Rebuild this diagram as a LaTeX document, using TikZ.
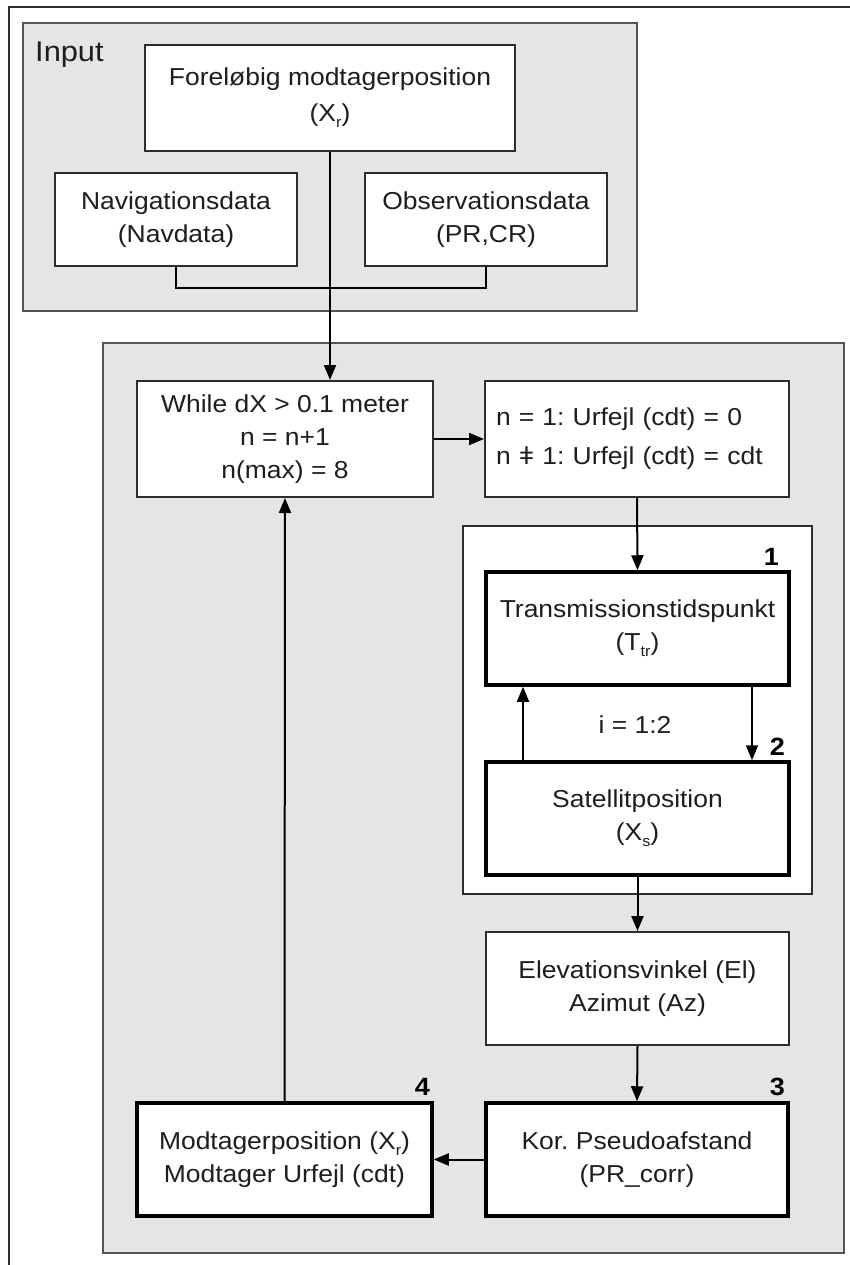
\documentclass[tikz,border=0pt]{standalone}
\usepackage{fontspec}
\setmainfont{Liberation Sans}[FakeStretch=1.08]
\usetikzlibrary{arrows.meta}

\definecolor{panel}{RGB}{229,229,229}
\definecolor{panelline}{RGB}{85,85,85}
\definecolor{boxline}{RGB}{45,45,45}
\definecolor{ink}{RGB}{30,30,30}

% lowered small index, e.g. X with index r
\newcommand{\lowidx}[1]{\raisebox{-6pt}{\fontsize{15}{15}\selectfont #1}}

\begin{document}
\frenchspacing
\begin{tikzpicture}[
  x=1pt, y=-1pt,
  font=\fontsize{24.5}{33}\selectfont, text=ink,
  panelbox/.style={draw=panelline, line width=2pt, fill=panel},
  plainbox/.style={draw=boxline, line width=2pt, fill=white, inner sep=0pt, align=center},
  heavybox/.style={draw=black, line width=3.5pt, fill=white, inner sep=0pt, align=center},
  link/.style={draw=black, line width=2pt},
  arr/.style={link, -{Triangle[length=15pt,width=12pt]}},
  stepno/.style={font=\fontsize{25}{25}\selectfont\bfseries, text=black, anchor=base east, inner sep=0pt}
]
\useasboundingbox (0,0) rectangle (850,1265);

% outer frame (top and left edges)
\draw[draw=boxline, line width=2.5pt] (9,1265) -- (9,7) -- (850,7);

% containers
\draw[panelbox] (23,23) rectangle (637,311);
\draw[panelbox] (103,343) rectangle (844,1253);
\draw[plainbox] (463,526) rectangle (812,894);

\node[anchor=base west, inner sep=0pt, font=\fontsize{28.5}{30}\selectfont] (inputlbl) at (35,62) {Input};

% input boxes
\node[plainbox, minimum width=370pt, minimum height=106pt] (fore) at (330,98)
  {Foreløbig modtagerposition\\[3pt](X\lowidx{r})};
\node[plainbox, minimum width=242pt, minimum height=93pt] (nav) at (176,219.5)
  {Navigationsdata\\(Navdata)};
\node[plainbox, minimum width=242pt, minimum height=93pt] (obs) at (486,219.5)
  {Observationsdata\\(PR,CR)};

% iteration boxes
\node[plainbox, minimum width=296pt, minimum height=116pt] (while) at (285,439)
  {While dX > 0.1 meter\\n = n+1\\n(max) = 8};
\node[plainbox, minimum width=304pt, minimum height=116pt, align=left, text width=282pt] (ncase) at (637,439)
  {n = 1: Urfejl (cdt) = 0\\[6pt]n ǂ 1: Urfejl (cdt) = cdt};
\node[heavybox, minimum width=303pt, minimum height=113pt] (trans) at (637.5,628.5)
  {Transmissionstidspunkt\\(T\lowidx{tr})};
\node[heavybox, minimum width=303pt, minimum height=113pt] (sat) at (637.5,818.5)
  {Satellitposition\\(X\lowidx{s})};
\node[plainbox, minimum width=303pt, minimum height=113pt] (elev) at (637.5,988.5)
  {Elevationsvinkel (El)\\Azimut (Az)};
\node[heavybox, minimum width=302pt, minimum height=113pt] (kor) at (637,1159.5)
  {Kor. Pseudoafstand\\(PR\_corr)};
\node[heavybox, minimum width=295pt, minimum height=113pt] (modt) at (284.5,1159.5)
  {Modtagerposition (X\lowidx{r})\\Modtager Urfejl (cdt)};

% step numbers and loop label
\node[stepno] (n1) at (779,565) {1};
\node[stepno] (n2) at (785,755) {2};
\node[stepno] (n3) at (785,1095) {3};
\node[stepno] (n4) at (430,1095) {4};
\node[anchor=base, inner sep=0pt] (iloop) at (635,733) {i = 1:2};

% connectors
\draw[arr] (fore.south) -- (fore.south |- while.north);
\draw[link] (nav.south) -- ++(0,21) -| (obs.south);
\draw[arr] (while.east) -- (ncase.west);
\draw[arr] (ncase.south) -- (trans.north);
\draw[arr] ([xshift=114.5pt]trans.south) -- ([xshift=114.5pt]sat.north);
\draw[arr] ([xshift=-114.5pt]sat.north) -- ([xshift=-114.5pt]trans.south);
\draw[arr] (sat.south) -- (elev.north);
\draw[arr] (elev.south) -- (kor.north);
\draw[arr] (kor.west) -- (modt.east);
\draw[arr] (modt.north) -- (while.south);
\end{tikzpicture}
\end{document}
